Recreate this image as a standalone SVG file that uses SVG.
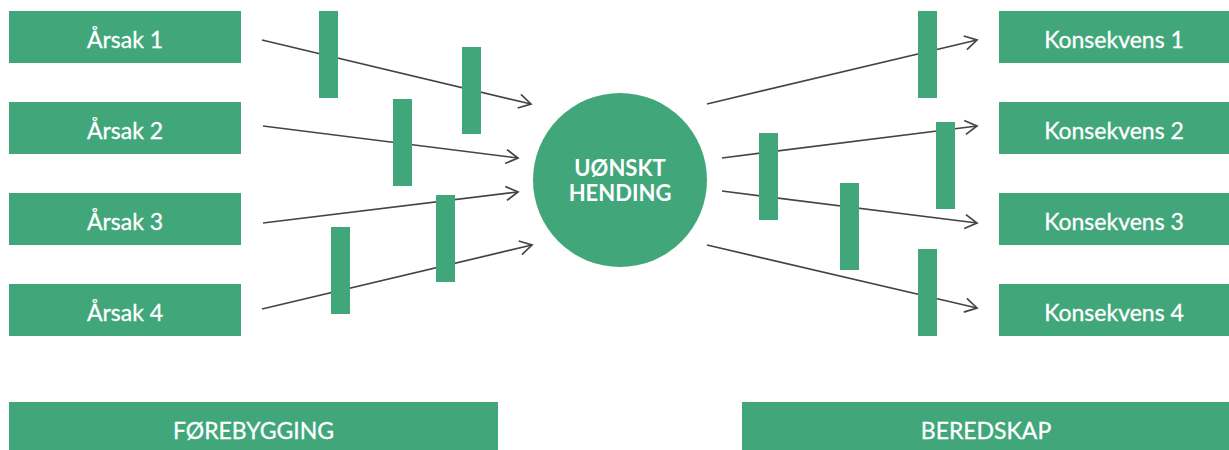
<svg xmlns="http://www.w3.org/2000/svg" width="1229" height="450" viewBox="0 0 1229 450">
<style>
.box{fill:#41a77b}
.bar{fill:#41a77b}
.lbl{fill:#ffffff;stroke:#ffffff;stroke-width:0.3;font-family:Lato,"Open Sans",sans-serif;font-size:23px;text-anchor:middle}
.ctr{fill:#ffffff;font-family:Lato,"Open Sans",sans-serif;font-size:22px;font-weight:bold;text-anchor:middle}
.con{stroke:#444444;stroke-width:1.7;fill:none;marker-end:url(#arr)}
</style>
<defs>
<marker id="arr" markerUnits="userSpaceOnUse" markerWidth="20" markerHeight="20" viewBox="-14 -10 16 20" refX="0" refY="0" orient="auto">
<path d="M-12,-7 L0,0 L-12,7" fill="none" stroke="#444444" stroke-width="1.7"/>
</marker>
</defs>
<rect width="1229" height="450" fill="#ffffff"/>
<g id="connectors">
<line class="con" x1="262" y1="40" x2="531" y2="104"/>
<line class="con" x1="263" y1="126" x2="518" y2="158"/>
<line class="con" x1="263" y1="223" x2="518" y2="192"/>
<line class="con" x1="262" y1="309" x2="532" y2="245"/>
<line class="con" x1="707" y1="104" x2="977" y2="40"/>
<line class="con" x1="722" y1="158" x2="977" y2="126"/>
<line class="con" x1="722" y1="191" x2="977" y2="223"/>
<line class="con" x1="707" y1="245" x2="977" y2="308"/>
</g>
<g id="barriers">
<rect class="bar" x="319" y="11" width="19" height="87"/>
<rect class="bar" x="462" y="47" width="19" height="87"/>
<rect class="bar" x="393" y="99" width="19" height="87"/>
<rect class="bar" x="436" y="195" width="19" height="87"/>
<rect class="bar" x="331" y="227" width="19" height="87"/>
<rect class="bar" x="918" y="11" width="19" height="87"/>
<rect class="bar" x="936" y="122" width="19" height="87"/>
<rect class="bar" x="759" y="133" width="19" height="87"/>
<rect class="bar" x="840" y="183" width="19" height="87"/>
<rect class="bar" x="918" y="249" width="19" height="87"/>
</g>
<g id="arsak1"><rect class="box" x="9" y="11" width="232" height="52"/><text class="lbl" x="125" y="48">Årsak 1</text></g>
<g id="arsak2"><rect class="box" x="9" y="102" width="232" height="52"/><text class="lbl" x="125" y="139">Årsak 2</text></g>
<g id="arsak3"><rect class="box" x="9" y="193" width="232" height="52"/><text class="lbl" x="125" y="230">Årsak 3</text></g>
<g id="arsak4"><rect class="box" x="9" y="284" width="232" height="52"/><text class="lbl" x="125" y="321">Årsak 4</text></g>
<g id="hending"><circle class="box" cx="620" cy="180" r="87"/><text class="ctr" x="620" y="176">UØNSKT</text><text class="ctr" x="620" y="201">HENDING</text></g>
<g id="konsekvens1"><rect class="box" x="999" y="11" width="230" height="52"/><text class="lbl" x="1114" y="48">Konsekvens 1</text></g>
<g id="konsekvens2"><rect class="box" x="999" y="102" width="230" height="52"/><text class="lbl" x="1114" y="139">Konsekvens 2</text></g>
<g id="konsekvens3"><rect class="box" x="999" y="193" width="230" height="52"/><text class="lbl" x="1114" y="230">Konsekvens 3</text></g>
<g id="konsekvens4"><rect class="box" x="999" y="284" width="230" height="52"/><text class="lbl" x="1114" y="321">Konsekvens 4</text></g>
<g id="forebygging"><rect class="box" x="9" y="402" width="489" height="48"/><text class="lbl" x="253.5" y="439">FØREBYGGING</text></g>
<g id="beredskap"><rect class="box" x="742" y="402" width="487" height="48"/><text class="lbl" x="986" y="439">BEREDSKAP</text></g>
</svg>
